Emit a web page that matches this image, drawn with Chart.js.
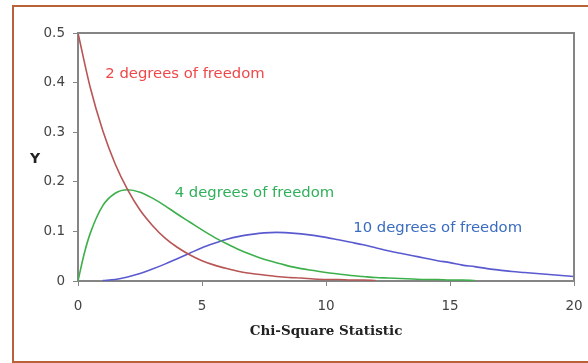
<!DOCTYPE html>
<html>
<head>
<meta charset="utf-8">
<script src="https://cdn.jsdelivr.net/npm/chart.js@4"></script>
<style>
  body { margin: 0; background: #fff; }
  #wrap { position: relative; width: 588px; height: 363px; overflow: hidden; }
  #frame {
    position: absolute; left: 12px; top: 5px; width: 600px; height: 354px;
    border: 2px solid #b8623a; box-shadow: 1px 1px 0 #e8b9a0;
  }
  canvas { position: absolute; left: 0; top: 0; }
</style>
</head>
<body>
<div id="wrap">
  <div id="frame"></div>
  <canvas id="chiChart" width="588" height="363"></canvas>
</div>
<script>
// x positions (chi-square statistic)
const x2 = [0, 0.5, 1, 1.5, 2, 2.5, 3, 3.5, 4, 4.5, 5, 5.5, 6, 6.5, 7, 7.5, 8, 8.5, 9, 9.5, 10, 10.5, 11, 11.5, 12];
const y2 = [0.5, 0.389, 0.303, 0.236, 0.184, 0.143, 0.112, 0.087, 0.068, 0.053, 0.041, 0.032, 0.025, 0.019, 0.015, 0.012, 0.009, 0.007, 0.006, 0.004, 0.003, 0.003, 0.002, 0.002, 0.001];

const x4 = [0, 0.25, 0.5, 1, 1.5, 2, 2.5, 3, 3.5, 4, 4.5, 5, 5.5, 6, 6.5, 7, 7.5, 8, 8.5, 9, 9.5, 10, 10.5, 11, 11.5, 12, 12.5, 13, 13.5, 14, 14.5, 15, 15.5, 16];
const y4 = [0, 0.055, 0.097, 0.152, 0.177, 0.184, 0.179, 0.167, 0.152, 0.135, 0.119, 0.103, 0.088, 0.075, 0.063, 0.053, 0.044, 0.037, 0.030, 0.025, 0.021, 0.017, 0.014, 0.011, 0.009, 0.007, 0.006, 0.005, 0.004, 0.003, 0.003, 0.002, 0.002, 0.001];

const x10 = [1, 1.5, 2, 2.5, 3, 3.5, 4, 4.5, 5, 5.5, 6, 6.5, 7, 7.5, 8, 8.5, 9, 9.5, 10, 10.5, 11, 11.5, 12, 12.5, 13, 13.5, 14, 14.5, 15, 15.5, 16, 16.5, 17, 17.5, 18, 18.5, 19, 19.5, 20];
const y10 = [0.001, 0.003, 0.008, 0.015, 0.024, 0.034, 0.045, 0.056, 0.067, 0.076, 0.084, 0.090, 0.094, 0.097, 0.098, 0.097, 0.095, 0.092, 0.088, 0.083, 0.078, 0.073, 0.067, 0.061, 0.056, 0.051, 0.046, 0.041, 0.037, 0.032, 0.029, 0.025, 0.022, 0.019, 0.017, 0.015, 0.013, 0.011, 0.009];

// curve labels: text, anchor x, anchor y (data units), colour
const labelText = ["2 degrees of freedom", "4 degrees of freedom", "10 degrees of freedom"];
const labelX = [1.1, 3.9, 11.1];
const labelY = [0.417, 0.178, 0.107];
const labelColor = ["#f04848", "#2fb05a", "#3a6cc0"];

const toPts = (xs, ys) => xs.map((x, i) => ({ x: x, y: ys[i] }));

// frame round the plot + curve labels + upright "Y"
const extras = {
  id: "extras",
  afterDraw(chart) {
    const { ctx, chartArea: a, scales } = chart;
    ctx.save();
    ctx.strokeStyle = "#858585";
    ctx.lineWidth = 2;
    ctx.beginPath();
    ctx.moveTo(a.left, a.top);
    ctx.lineTo(a.right, a.top);
    ctx.lineTo(a.right, a.bottom);
    ctx.stroke();

    ctx.font = "14.8px 'DejaVu Sans', sans-serif";
    ctx.textBaseline = "middle";
    ctx.textAlign = "left";
    labelText.forEach((t, i) => {
      ctx.fillStyle = labelColor[i];
      ctx.fillText(t, scales.x.getPixelForValue(labelX[i]), scales.y.getPixelForValue(labelY[i]));
    });

    ctx.font = "bold 14px 'DejaVu Sans', sans-serif";
    ctx.fillStyle = "#222";
    ctx.textAlign = "center";
    ctx.fillText("Y", 35, 159);
    ctx.restore();
  }
};

const lineStyle = { pointRadius: 0, borderWidth: 1.6, fill: false, cubicInterpolationMode: "monotone" };
const tickFont = { family: "'DejaVu Sans', sans-serif", size: 13.5 };

new Chart(document.getElementById("chiChart"), {
  type: "line",
  data: {
    datasets: [
      { label: "2 df", data: toPts(x2, y2), borderColor: "#b85555", ...lineStyle },
      { label: "4 df", data: toPts(x4, y4), borderColor: "#3db04c", ...lineStyle },
      { label: "10 df", data: toPts(x10, y10), borderColor: "#5a5ad0", ...lineStyle }
    ]
  },
  options: {
    responsive: false,
    animation: false,
    layout: { padding: { left: 16, right: 14, top: 33, bottom: 12 } },
    plugins: { legend: { display: false }, tooltip: { enabled: false } },
    scales: {
      x: {
        type: "linear",
        min: 0, max: 20,
        afterFit(s) { s.height = 70; s.paddingLeft = 0; s.paddingRight = 0; },
        ticks: { stepSize: 5, color: "#444", padding: 12, font: tickFont },
        grid: { drawOnChartArea: false, drawTicks: true, tickLength: 5, color: "#858585", lineWidth: 1 },
        border: { display: true, color: "#858585", width: 2 },
        title: {
          display: true, text: "Chi-Square Statistic", color: "#222",
          padding: { top: 0, bottom: 11 },
          font: { family: "'DejaVu Serif', serif", size: 13.5, weight: "bold" }
        }
      },
      y: {
        min: 0, max: 0.5,
        afterFit(s) { s.width = 62; s.paddingTop = 0; s.paddingBottom = 0; },
        ticks: { stepSize: 0.1, color: "#444", padding: 8, font: tickFont },
        grid: { drawOnChartArea: false, drawTicks: true, tickLength: 5, color: "#858585", lineWidth: 1 },
        border: { display: true, color: "#858585", width: 2 }
      }
    }
  },
  plugins: [extras]
});
</script>
</body>
</html>
